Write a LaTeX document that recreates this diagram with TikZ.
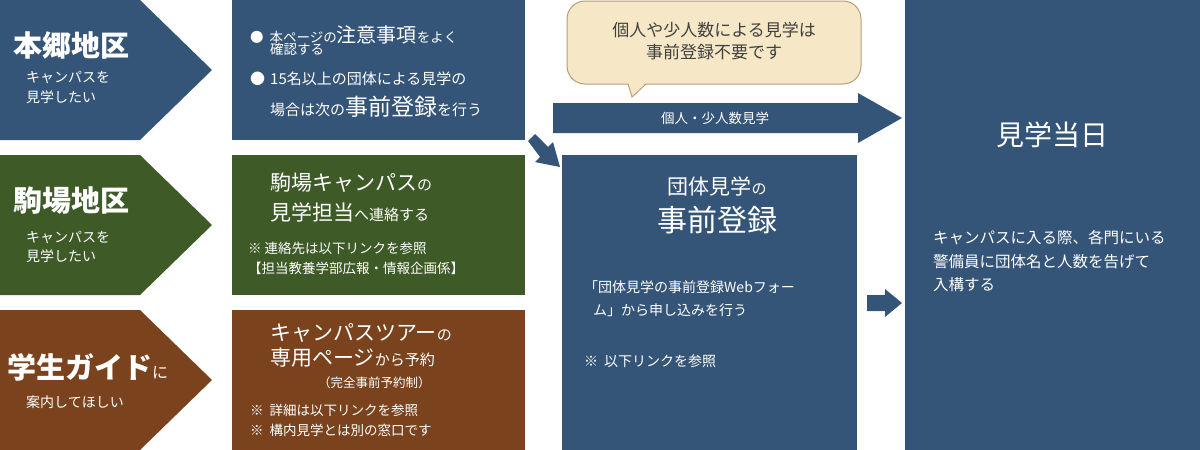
\documentclass[tikz,border=0pt]{standalone}
\usepackage{fontspec}
\setmainfont{Noto Sans CJK JP}
\definecolor{cb}{HTML}{345578}
\definecolor{cg}{HTML}{3D5A27}
\definecolor{cr}{HTML}{7A431E}
\definecolor{bub}{HTML}{F6E7C6}
\definecolor{bubd}{HTML}{B3A077}
\newcommand{\fs}[1]{\fontsize{#1}{#1}\selectfont}
\begin{document}
\begin{tikzpicture}[x=1pt,y=-1pt,
  t/.style={text=white,anchor=west,inner sep=0pt}]
\useasboundingbox (0,0) rectangle (1200,450);
\foreach \y/\c in {0/cb,155/cg,310/cr}{
  \fill[\c] (0,\y) -- (140,\y) -- (212,\y+70) -- (140,\y+140) -- (0,\y+140) -- cycle;
  \fill[\c] (232,\y) rectangle (525,\y+140);
}
% left chevrons
\node[t,font=\fs{29}\bfseries] (h1) at (13,45) {本郷地区};
\node[t,font=\fs{14}] (h1a) at (26,77) {キャンパスを};
\node[t,font=\fs{14}] (h1b) at (26,97) {見学したい};
\node[t,font=\fs{29}\bfseries] (h2) at (13,201) {駒場地区};
\node[t,font=\fs{14}] (h2a) at (26,237) {キャンパスを};
\node[t,font=\fs{14}] (h2b) at (26,256) {見学したい};
\node[t] (h3) at (7,367) {\fs{29}\bfseries 学生ガイド\fs{16}\mdseries に};
\node[t,font=\fs{14}] (h3a) at (26,402) {案内してほしい};
% box1
\node[t,font=\fs{13.5}] (b1a) at (250,35) {●\hspace{6pt}本ページの{\fs{20}注意事項}をよく};
\node[t,font=\fs{13.5}] (b1b) at (270,49) {確認する};
\node[t,font=\fs{15}] (b1c) at (250,79) {●\hspace{5pt}15名以上の団体による見学の};
\node[t,font=\fs{15}] (b1d) at (270,107) {場合は次の{\fs{23}事前登録}を行う};
% box2
\node[t,font=\fs{21}] (b2a) at (270,183) {駒場キャンパス{\fs{15}の}};
\node[t,font=\fs{21}] (b2b) at (270,212) {見学担当{\fs{15}へ連絡する}};
\node[t,font=\fs{13.5}] (b2c) at (248,248) {※\hspace{3pt}連絡先は以下リンクを参照};
\node[t,font=\fs{13.5}] (b2d) at (248,268) {【担当教養学部広報・情報企画係】};
% box3
\node[t,font=\fs{21}] (b3a) at (270,333) {キャンパスツアー{\fs{15}の}};
\node[t,font=\fs{21}] (b3b) at (270,358) {専用ページ{\fs{15}から予約}};
\node[t,font=\fs{12.5}] (b3c) at (318,383) {（完全事前予約制）};
\node[t,font=\fs{13.5}] (b3d) at (250,410) {※\hspace{6pt}詳細は以下リンクを参照};
\node[t,font=\fs{13.5}] (b3e) at (250,430) {※\hspace{6pt}構内見学とは別の窓口です};
% bubble
\draw[bubd,fill=bub,line width=1pt,rounded corners=18pt] (567,1) rectangle (861,84);
\fill[bub] (628,82) -- (646,82) -- (632,97) -- cycle;
\draw[bubd,line width=1pt] (628,84) -- (632,97) -- (646,84);
\node[align=center,font=\fontsize{17}{22}\selectfont,text=black!75] (bt) at (714,41) {個人や少人数による見学は\\事前登録不要です};
% horizontal arrow
\fill[cb] (553,103) -- (858,103) -- (858,93) -- (902,118) -- (858,143) -- (858,133) -- (553,133) -- cycle;
\node[text=white,font=\fs{13.5}] (al) at (715,118) {個人・少人数見学};
% diagonal arrow
\fill[cb] (528,141) -- (535,134) -- (548,147) -- (553,142) -- (560,167) -- (535,162) -- (540,157) -- cycle;
% middle box
\fill[cb] (562,155) rectangle (857,450);
\node[text=white,font=\fs{21}] (m1) at (717,186) {団体見学{\fs{15}の}};
\node[text=white,font=\fs{30}] (m2) at (717,220) {事前登録};
\node[t,font=\fs{14}] (m3) at (584,287) {「団体見学の事前登録Webフォー};
\node[t,font=\fs{14}] (m4) at (593,310) {ム」から申し込みを行う};
\node[t,font=\fs{14}] (m5) at (584,361) {※\hspace{6pt}以下リンクを参照};
% small arrow
\fill[cb] (867,295) -- (885,295) -- (885,289) -- (902,303) -- (885,317) -- (885,311) -- (867,311) -- cycle;
% right box
\fill[cb] (905,0) rectangle (1200,450);
\node[text=white,font=\fs{28}] (r1) at (1052,135) {見学当日};
\node[t,font=\fs{15.5}] (r2) at (933,238) {キャンパスに入る際、各門にいる};
\node[t,font=\fs{15.5}] (r3) at (933,262) {警備員に団体名と人数を告げて};
\node[t,font=\fs{15.5}] (r4) at (933,285) {入構する};
\end{tikzpicture}
\end{document}
